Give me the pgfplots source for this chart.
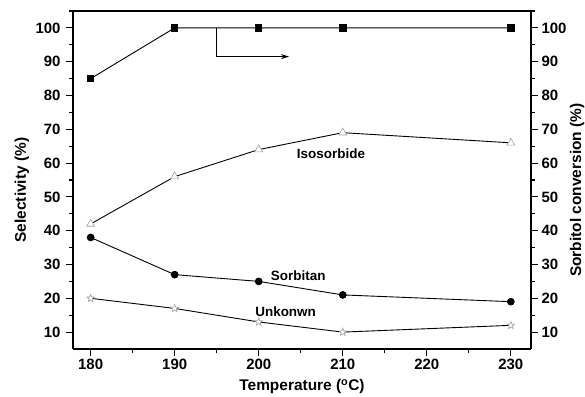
\documentclass[border=0pt]{standalone}
\usepackage{pgfplots}
\pgfplotsset{compat=1.18}
\usepackage{fontspec}
\setmainfont{Liberation Sans}
\usetikzlibrary{arrows.meta,calc}

% open five-pointed star
\pgfdeclareplotmark{ostar}{%
  \pgfpathmoveto{\pgfpointpolar{90}{\pgfplotmarksize}}%
  \pgfpathlineto{\pgfpointpolar{126}{0.42\pgfplotmarksize}}%
  \pgfpathlineto{\pgfpointpolar{162}{\pgfplotmarksize}}%
  \pgfpathlineto{\pgfpointpolar{198}{0.42\pgfplotmarksize}}%
  \pgfpathlineto{\pgfpointpolar{234}{\pgfplotmarksize}}%
  \pgfpathlineto{\pgfpointpolar{270}{0.42\pgfplotmarksize}}%
  \pgfpathlineto{\pgfpointpolar{306}{\pgfplotmarksize}}%
  \pgfpathlineto{\pgfpointpolar{342}{0.42\pgfplotmarksize}}%
  \pgfpathlineto{\pgfpointpolar{18}{\pgfplotmarksize}}%
  \pgfpathlineto{\pgfpointpolar{54}{0.42\pgfplotmarksize}}%
  \pgfpathclose
  \pgfusepathqfillstroke}

\newcommand{\lblfont}{\fontsize{15.5}{16}\selectfont\bfseries}
\newcommand{\tckfont}{\fontsize{15}{16}\selectfont\bfseries}
\newcommand{\txtfont}{\fontsize{13.5}{14}\selectfont\bfseries}

\pgfplotsset{
  common/.style={
    scale only axis, width=458bp, height=338bp,
    xmin=177.9, xmax=232.4, ymin=5, ymax=105,
    /pgf/number format/assume math mode=true,
    ticklabel style={font=\tckfont},
    label style={font=\lblfont},
    tick style={line width=1.1pt, black},
    major tick length=7bp, minor tick length=3.5bp,
    axis line style={line width=1.2pt},
    tick align=outside,
    ytick={10,20,...,100}, minor ytick={15,25,...,105},
  },
}

\begin{document}
\begin{tikzpicture}
\begin{axis}[common, name=main,
  axis y line*=left, axis x line*=box,
  xtick={180,190,...,230}, minor xtick={185,195,...,225},
  xtick pos=bottom,
  xlabel={Temperature (\textsuperscript{o}C)},
  ylabel={Selectivity (\%)},
  xlabel style={at={(axis description cs:0.5,0)}, anchor=center, yshift=-38bp},
  ylabel style={at={(axis description cs:0,0.47)}, anchor=center, yshift=51bp},
  yticklabel style={xshift=-2bp},
]
% Sorbitol conversion
\addplot[black, line width=0.9pt, mark=square*, mark size=3.2pt, mark options={fill=black}]
  coordinates {(180,85) (190,100) (200,100) (210,100) (230,100)};
% Isosorbide
\addplot[black, line width=0.9pt, mark=triangle*, mark size=4.6pt, mark options={draw=gray!75, fill=white, line width=0.6pt}]
  coordinates {(180,42) (190,56) (200,64) (210,69) (230,66)};
% Sorbitan
\addplot[black, line width=0.9pt, mark=*, mark size=3.4pt, mark options={fill=black}]
  coordinates {(180,38) (190,27) (200,25) (210,21) (230,19)};
% Unknown
\addplot[black, line width=0.9pt, mark=ostar, mark size=4pt, mark options={draw=gray!75, fill=white, line width=0.6pt}]
  coordinates {(180,20) (190,17) (200,13) (210,10) (230,12)};

\draw[line width=0.9pt, -{Stealth[length=8bp, width=5bp]}]
  (axis cs:195,100) -- (axis cs:195,91.5) -- (axis cs:203.6,91.5);

\node[font=\txtfont] at (axis cs:208.6,62.9) {Isosorbide};
\node[font=\txtfont] at (axis cs:204.7,26.8) {Sorbitan};
\node[font=\txtfont] at (axis cs:203.2,16.1) {Unkonwn};
\end{axis}
\begin{axis}[common,
  axis y line*=right, axis x line=none,
  ylabel={Sorbitol conversion (\%)},
  ylabel style={at={(axis description cs:1,0.47)}, anchor=center, yshift=-46bp},
]
\end{axis}
\pgfresetboundingbox
\path ($(main.south west)+(-73bp,-48bp)$) rectangle ++(585bp,397bp);
\end{tikzpicture}
\end{document}
